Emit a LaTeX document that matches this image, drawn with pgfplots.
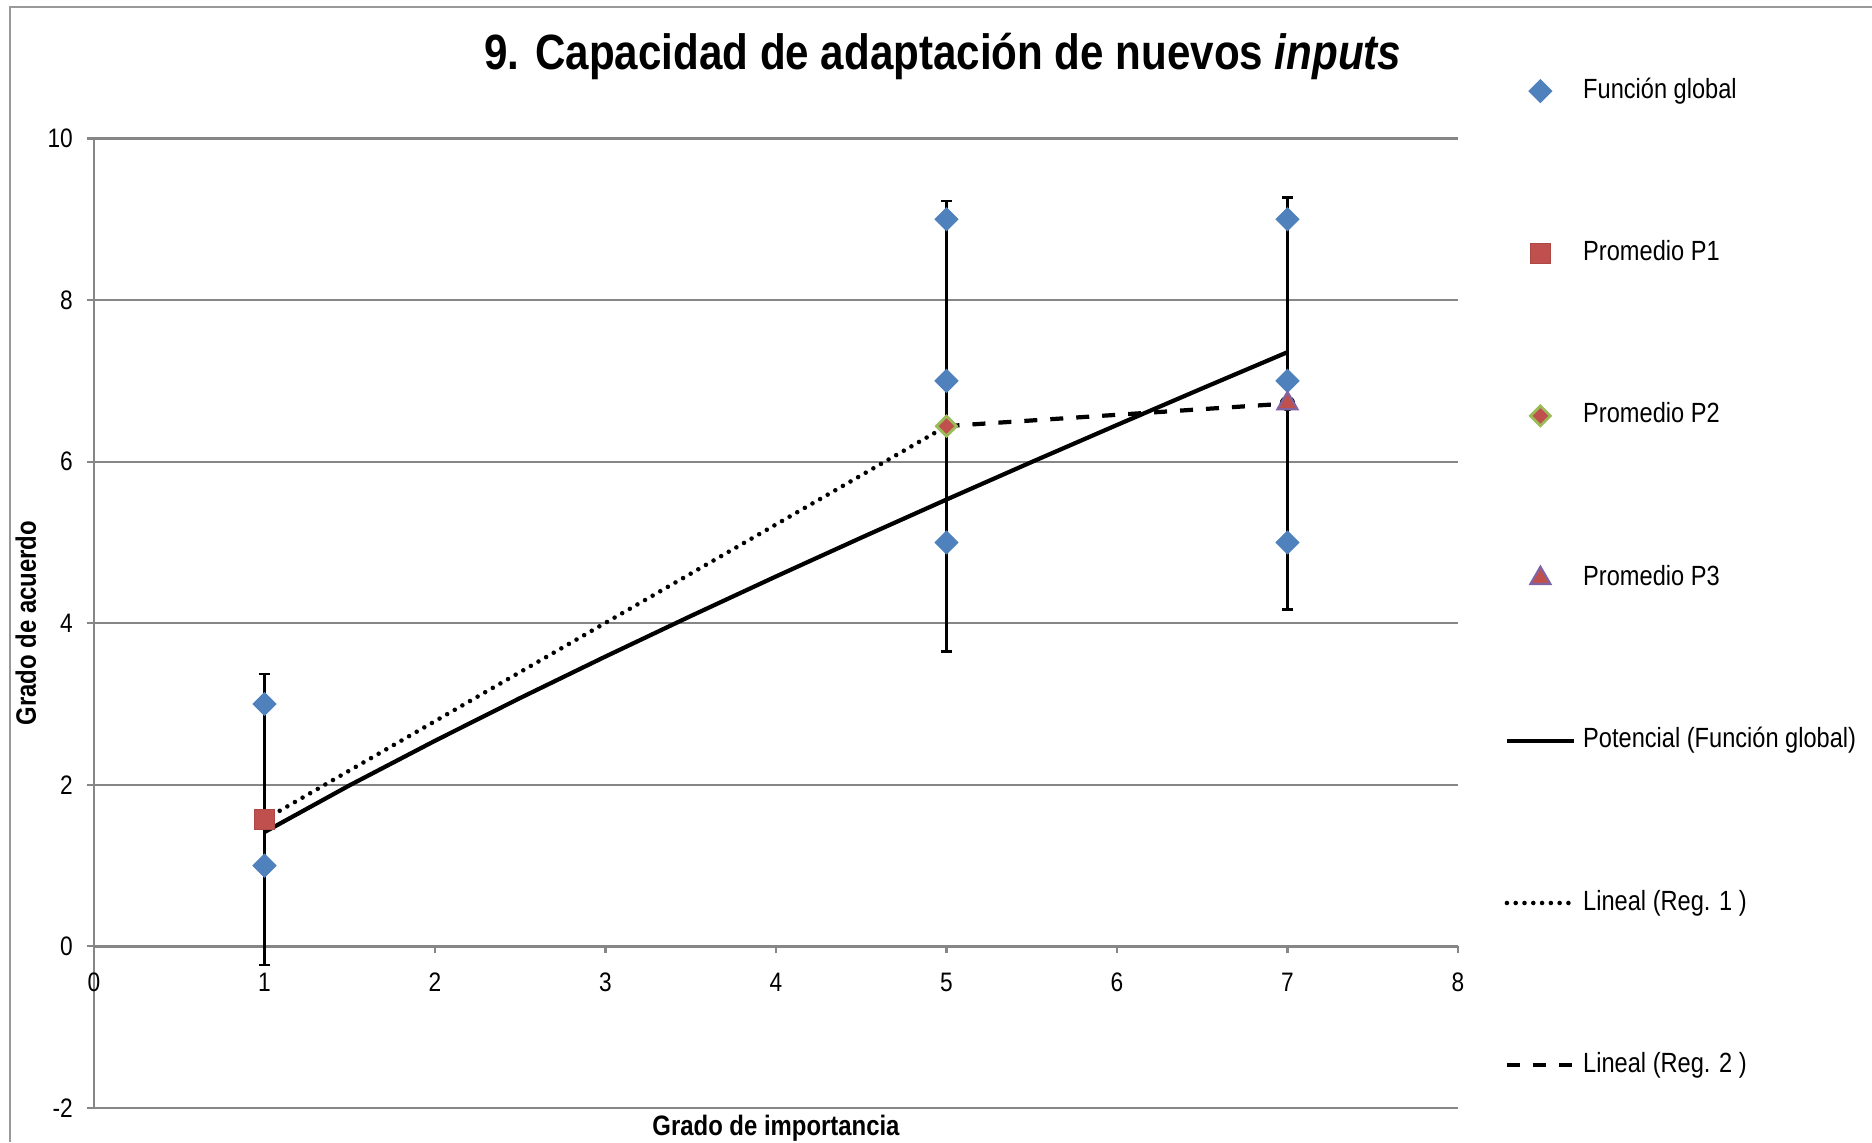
\documentclass[border=0pt]{standalone}
\usepackage{fontspec}
\setmainfont{Liberation Sans}[FakeStretch=0.85]
\usepackage{pgfplots}
\pgfplotsset{compat=1.18}

\definecolor{gridgray}{HTML}{868686}
\definecolor{xlblue}{HTML}{4F81BD}
\definecolor{xlred}{HTML}{C0504D}
\definecolor{xlgreen}{HTML}{9BBB59}
\definecolor{xlpurple}{HTML}{8064A2}

\pgfplotsset{
  legmark/.style={legend image code/.code={\path[draw=none, fill=none] (0mm,0mm) -- (6.7mm,0mm);
    \draw[##1, /tikz/only marks] plot coordinates {(3.35mm,0mm)};}},
  legline/.style={legend image code/.code={\draw[##1] (0mm,0mm) -- (6.7mm,0mm);}},
}

\begin{document}
\begin{tikzpicture}
\useasboundingbox (0,0) rectangle (187.2mm,114.2mm);
\draw[black!40, line width=0.7pt] (1.0mm,0mm) -- (1.0mm,113.5mm) -- (187.2mm,113.5mm);
\begin{axis}[
  at={(9.4mm,3.4mm)}, anchor=south west,
  scale only axis, width=136.4mm, height=96.95mm,
  xmin=0, xmax=8, ymin=-2, ymax=10,
  xtick={0,...,8}, ytick={-2,0,...,10},
  axis x line=middle, axis y line=left,
  hide obscured x ticks=false, hide obscured y ticks=false,
  axis line style={-, gridgray, line width=0.7pt},
  ymajorgrids, grid style={gridgray, line width=0.6pt},
  tick align=outside, major tick length=1.9pt,
  tick style={gridgray, line width=0.6pt},
  ticklabel style={font=\fontsize{7.6}{9}\selectfont},
  xticklabel style={yshift=-2.1pt},
  yticklabel style={xshift=-0.6pt},
  /pgf/number format/assume math mode=true,
  title={\bfseries 9. Capacidad de adaptación de nuevos \textit{inputs}},
  title style={at={(axis description cs:0.6224,1.0490)}, anchor=base,
    font=\fontsize{14.1}{17}\selectfont, inner sep=0pt},
  xlabel={\bfseries Grado de importancia},
  xlabel style={at={(axis description cs:0.5,0)}, anchor=base, yshift=-2.75mm,
    inner sep=0pt, font=\fontsize{8}{10}\selectfont},
  ylabel={\bfseries Grado de acuerdo},
  ylabel style={at={(axis description cs:-0.0499,0.5)}, anchor=center,
    inner sep=0pt, font=\fontsize{8}{10}\selectfont},
  legend style={at={(1.0337,1.0699)}, anchor=north west, draw=none, fill=none,
    inner xsep=0pt, inner ysep=0pt, row sep=35pt, cells={anchor=west},
    nodes={inner sep=2pt, text height=5.6pt, text depth=1.6pt},
    font=\fontsize{7.9}{9}\selectfont},
]

% barras de error (promedios +- desviacion)
\addplot[forget plot, only marks, mark=none,
  error bars/.cd, y dir=both, y explicit,
  error bar style={black, line width=0.6pt},
  error mark options={black, rotate=90, mark size=1.6pt, line width=0.6pt}]
  coordinates {(1,1.57) +- (0,1.80) (5,6.44) +- (0,2.79) (7,6.72) +- (0,2.55)};

\addplot[only marks, mark=square*, mark size=2.3pt, legmark,
  mark options={rotate=45, fill=xlblue, draw=xlblue, line width=0.3pt}]
  coordinates {(1,1) (1,3) (5,5) (5,7) (5,9) (7,5) (7,7) (7,9)};
\addlegendentry{Función global}

\addplot[only marks, mark=square*, mark size=2.8pt, legmark,
  mark options={fill=xlred, draw=xlred!90!black, line width=0.3pt}]
  coordinates {(1,1.57)};
\addlegendentry{Promedio P1}

\addplot[only marks, mark=square*, mark size=2.0pt, legmark,
  mark options={rotate=45, fill=xlred, draw=xlgreen, line width=0.8pt}]
  coordinates {(5,6.44)};
\addlegendentry{Promedio P2}

\addplot[only marks, mark=triangle*, mark size=3.3pt, legmark,
  mark options={fill=xlred, draw=xlpurple, line width=0.6pt}]
  coordinates {(7,6.72)};
\addlegendentry{Promedio P3}

% linea de tendencia potencial
\addplot[black, line width=1.2pt, mark=none, legline]
  coordinates {(1,1.415) (1.5,1.995) (2,2.545) (2.5,3.075) (3,3.588) (3.5,4.089)
    (4,4.579) (4.5,5.059) (5,5.531) (5.5,5.996) (6,6.454) (6.5,6.907) (7,7.355)};
\addlegendentry{Potencial (Función global)}

\addplot[black, line width=1.3pt, line cap=round, dash pattern=on 0pt off 2.5pt, mark=none, legline]
  coordinates {(1,1.57) (5,6.44)};
\addlegendentry{Lineal (Reg. 1 )}

\addplot[black, line width=1.2pt, dash pattern=on 3.7pt off 3.7pt, mark=none, legline]
  coordinates {(5,6.44) (7,6.72)};
\addlegendentry{Lineal (Reg. 2 )}

\end{axis}
\end{tikzpicture}
\end{document}
